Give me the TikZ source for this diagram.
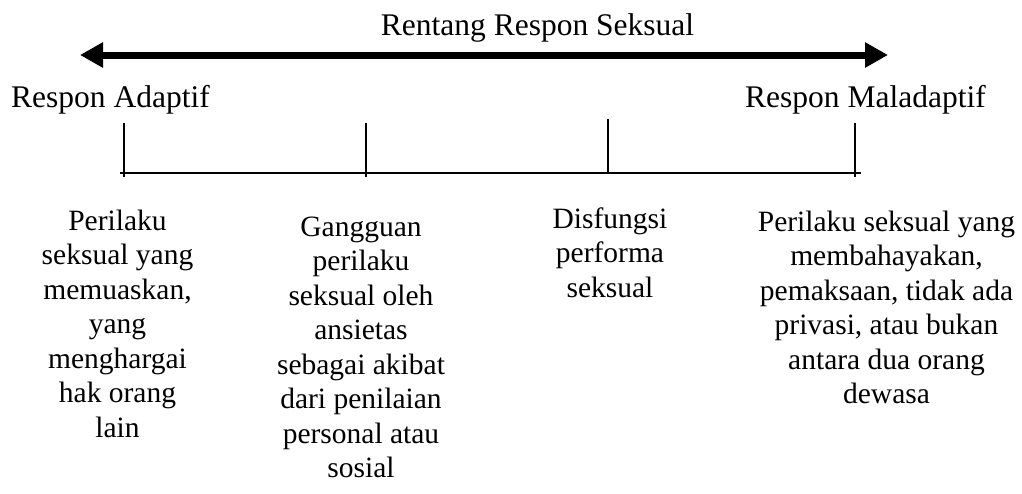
\documentclass[tikz,border=0pt]{standalone}
\usepackage{fontspec}
\setmainfont{Liberation Serif}
\usetikzlibrary{arrows.meta}

\begin{document}
\begin{tikzpicture}[x=1pt,y=-1pt,
  lbl/.style={font=\fontsize{31.5}{36}\selectfont, inner sep=0pt},
  desc/.style={font=\fontsize{29.5}{34.5}\selectfont, align=center, inner sep=0pt, anchor=north},
  axis/.style={line width=2pt},
  bigarrow/.style={line width=7pt, {Triangle[length=23pt,width=24pt]}-{Triangle[length=23pt,width=24pt]}}
]
\useasboundingbox (0,0) rectangle (1022,493);

% title and the double-headed range arrow
\node[lbl, anchor=base] (title) at (537.5,35) {Rentang Respon Seksual};
\coordinate (arrL) at (80,55);
\coordinate (arrR) at (888,55);
\draw[bigarrow] (arrL) -- (arrR);

% end labels
\node[lbl, anchor=base west] (adaptif) at (11,107) {Respon Adaptif};
\node[lbl, anchor=base east] (maladaptif) at (986,107) {Respon Maladaptif};

% scale line with four ticks
\coordinate (axL) at (120,172.5);
\coordinate (axR) at (861,172.5);
\draw[axis] (axL) -- (axR);
\coordinate (t1a) at (123.5,123); \coordinate (t1b) at (123.5,176.5);
\coordinate (t2a) at (365.5,123); \coordinate (t2b) at (365.5,176.5);
\coordinate (t3a) at (607.5,119); \coordinate (t3b) at (607.5,172.5);
\coordinate (t4a) at (855,123);   \coordinate (t4b) at (855,176.5);
\draw[axis] (t1a) -- (t1b);
\draw[axis] (t2a) -- (t2b);
\draw[axis] (t3a) -- (t3b);
\draw[axis] (t4a) -- (t4b);

% descriptions under the scale (\strut height = 0.7 baselineskip)
\node[desc] (d1) at (117.5,205.85) {\strut Perilaku\\seksual yang\\memuaskan,\\yang\\menghargai\\hak orang\\lain};
\node[desc] (d2) at (361,211.85) {\strut Gangguan\\perilaku\\seksual oleh\\ansietas\\sebagai akibat\\dari penilaian\\personal atau\\sosial};
\node[desc] (d3) at (610,203.85) {\strut Disfungsi\\performa\\seksual};
\node[desc] (d4) at (886.5,206.85) {\strut Perilaku seksual yang\\membahayakan,\\pemaksaan, tidak ada\\privasi, atau bukan\\antara dua orang\\dewasa};
\end{tikzpicture}
\end{document}
